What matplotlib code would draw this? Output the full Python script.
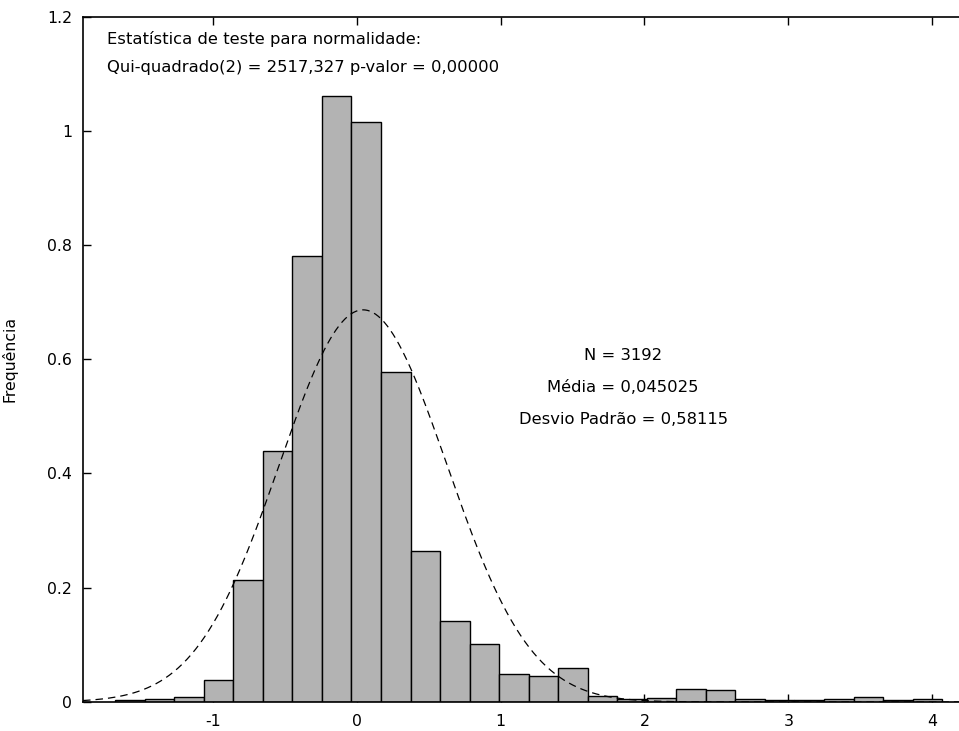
import numpy as np
import matplotlib
matplotlib.use("Agg")
import matplotlib.pyplot as plt

# histogram (density), 28 bins
bin_lo = -1.678
bin_hi = 4.069
dens = [0.003, 0.005, 0.009, 0.038, 0.213, 0.440, 0.780, 1.061, 1.016, 0.578,
        0.264, 0.142, 0.102, 0.049, 0.046, 0.060, 0.011, 0.005, 0.007, 0.022,
        0.021, 0.005, 0.003, 0.003, 0.005, 0.009, 0.003, 0.005]

n_obs = 3192
media = 0.045025
desvio = 0.58115

xticks = [-1, 0, 1, 2, 3, 4]
yticks = [0, 0.2, 0.4, 0.6, 0.8, 1, 1.2]
ytick_labels = ["0", "0.2", "0.4", "0.6", "0.8", "1", "1.2"]

plt.rcParams['font.family'] = ['DejaVu Sans']
fig = plt.figure(figsize=(9.59, 7.31), dpi=100)
ax = fig.add_axes([0.0866, 0.0397, 0.9134, 0.9377])

edges = np.linspace(bin_lo, bin_hi, len(dens) + 1)
width = edges[1] - edges[0]
ax.bar(edges[:-1], dens, width=width, align='edge', color='#b3b3b3',
       edgecolor='black', linewidth=1.0, zorder=2)

xlo, xhi = -1.901, 4.186
xs = np.linspace(xlo, xhi, 600)
pdf = np.exp(-0.5 * ((xs - media) / desvio) ** 2) / (desvio * np.sqrt(2 * np.pi))
ax.plot(xs, pdf, color='black', lw=0.9, dashes=(6, 4), zorder=3)

fs = 11.8
ax.set_xlim(xlo, xhi)
ax.set_ylim(0, 1.2)
ax.set_xticks(xticks)
ax.set_xticklabels([str(t) for t in xticks])
ax.set_yticks(yticks)
ax.set_yticklabels(ytick_labels)
ax.tick_params(direction='in', length=6, width=1, labelsize=11.3, top=True,
               colors='black')
ax.tick_params(axis='x', pad=9)
ax.tick_params(axis='y', pad=8)
ax.spines['right'].set_visible(False)
for s in ['left', 'top', 'bottom']:
    ax.spines[s].set_linewidth(1.2)

ax.set_ylabel("Frequência", fontsize=11.3)
ax.yaxis.set_label_coords(-0.0753, 0.5)

ax.text(-1.734, 1.161, "Estatística de teste para normalidade:", fontsize=fs,
        ha='left', va='center')
ax.text(-1.734, 1.110, "Qui-quadrado(2) = 2517,327 p-valor = 0,00000",
        fontsize=fs, ha='left', va='center')
ax.text(1.852, 0.606, "N = %d" % n_obs, fontsize=fs, ha='center', va='center')
ax.text(1.852, 0.550, "Média = 0,045025", fontsize=fs, ha='center', va='center')
ax.text(1.852, 0.494, "Desvio Padrão = 0,58115", fontsize=fs, ha='center',
        va='center')

fig.savefig("out.png", dpi=100)
